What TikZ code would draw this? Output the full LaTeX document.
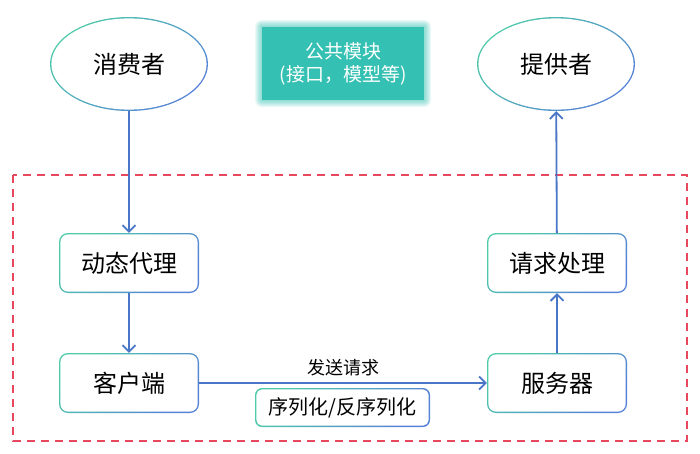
\documentclass[tikz,border=0pt]{standalone}
\usepackage{fontspec}
\setmainfont{Noto Sans CJK SC}
\usetikzlibrary{shapes.geometric,arrows.meta}
\definecolor{rimA}{RGB}{78,202,170}
\definecolor{rimB}{RGB}{86,130,214}
\definecolor{flow}{RGB}{74,118,200}
\definecolor{modfill}{RGB}{52,192,178}
\definecolor{zone}{RGB}{232,72,94}
\tikzstyle{rim}=[top color=rimA, bottom color=rimB, shading angle=45, draw=none]
\tikzstyle{role}=[ellipse, rim, minimum width=158, minimum height=94, inner sep=0pt]
\tikzstyle{roleface}=[ellipse, fill=white, minimum width=155.2, minimum height=91.2, inner sep=0pt, font=\fontsize{24}{28}\selectfont]
\tikzstyle{stage}=[rectangle, rim, rounded corners=9, minimum width=140, minimum height=60, inner sep=0pt]
\tikzstyle{stageface}=[rectangle, fill=white, rounded corners=7.6, minimum width=137.2, minimum height=57.2, inner sep=0pt, font=\fontsize{24}{28}\selectfont]
\tikzstyle{link}=[-{Straight Barb[length=6.5pt, width=13pt, line width=1.8pt]}, flow, line width=1.8pt]

\begin{document}
\begin{tikzpicture}[x=1pt, y=-1pt]
    \useasboundingbox (0,0) rectangle (700,453);
    % dashed frame
    \draw[zone, line width=2pt, dash pattern=on 8pt off 6pt] (13,175) rectangle (687,441);
    % shared module with glow
    \foreach \g in {7,6,...,1}
        \fill[modfill, opacity=0.1, rounded corners=\g] (262-\g,27-\g) rectangle (424+\g,100+\g);
    \node[rectangle, fill=modfill, text=white, minimum width=162, minimum height=73, align=center,
          font=\fontsize{19}{23}\selectfont] (mod) at (343,63.5) {公共模块\\(接口，模型等)};
    % roles
    \node[role] (cons) at (129,64) {};
    \node[roleface] (cons-face) at (cons) {消费者};
    \node[role] (prov) at (556,64) {};
    \node[roleface] (prov-face) at (prov) {提供者};
    % stages
    \node[stage] (proxy) at (129,263) {};
    \node[stageface] (proxy-face) at (proxy) {动态代理};
    \node[stage] (client) at (129,383) {};
    \node[stageface] (client-face) at (client) {客户端};
    \node[stage] (handler) at (557,263) {};
    \node[stageface] (handler-face) at (handler) {请求处理};
    \node[stage] (server) at (557,383) {};
    \node[stageface] (server-face) at (server) {服务器};
    % codec
    \node[rectangle, rim, rounded corners=7, minimum width=175, minimum height=39, inner sep=0pt] (codec) at (342.5,407.5) {};
    \node[rectangle, fill=white, rounded corners=5.6, minimum width=172.2, minimum height=36.2, inner sep=0pt,
          font=\fontsize{20}{24}\selectfont] (codec-face) at (codec) {序列化/反序列化};
    % flow
    \draw[link] (cons) -- (proxy);
    \draw[link] (proxy) -- (client);
    \draw[link] (client) -- node[above=3pt, text=black, font=\fontsize{18}{21}\selectfont] (send) {发送请求} (server);
    \draw[link] (server) -- (handler);
    \draw[link] (handler) -- (prov);
\end{tikzpicture}
\end{document}
